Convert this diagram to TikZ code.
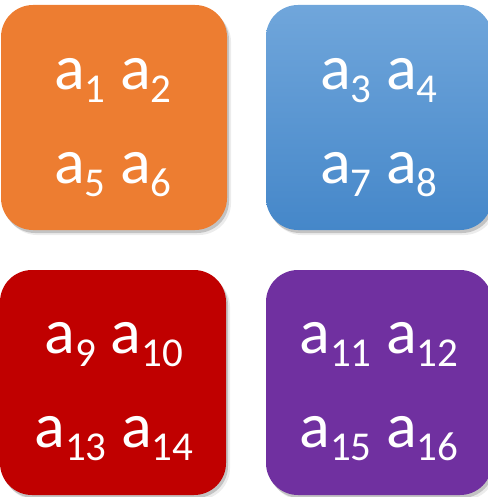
\documentclass[tikz,border=0pt]{standalone}
\usepackage{fontspec}
\setmainfont{Carlito}
\usetikzlibrary{shadows}

\definecolor{tileorange}{HTML}{ED7D31}
\definecolor{tilebluetop}{HTML}{70A6DB}
\definecolor{tilebluebot}{HTML}{4587C9}
\definecolor{tilered}{HTML}{C00000}
\definecolor{tilepurple}{HTML}{7030A0}

% lowered index digits
\newcommand{\ix}[1]{\raisebox{-13pt}{\fontsize{41}{41}\selectfont #1}}

\begin{document}
\begin{tikzpicture}[x=1pt, y=-1pt,
  tile/.style={rounded corners=32pt, minimum width=226pt, minimum height=225pt, inner sep=0pt,
    drop shadow={shadow xshift=4pt, shadow yshift=-5pt, opacity=0.15, fill=black!50},
    drop shadow={shadow xshift=2pt, shadow yshift=-3pt, opacity=0.3, fill=black!60}},
  entry/.style={anchor=base, text=white, inner sep=0pt, font=\fontsize{64}{64}\selectfont}
]
  \useasboundingbox (0,0) rectangle (487,497);

  % the four tiles
  \node[tile, fill=tileorange] (orange) at (114,117.5) {};
  \node[tile, top color=tilebluetop, bottom color=tilebluebot] (blue) at (379,117.5) {};
  \node[tile, fill=tilered] (red) at (113,382.5) {};
  \node[tile, fill=tilepurple] (purple) at (379,382.5) {};

  % entries
  \node[entry] (a12) at (113,90) {a\ix{1} a\ix{2}};
  \node[entry] (a56) at (113,183) {a\ix{5} a\ix{6}};
  \node[entry] (a34) at (379,90) {a\ix{3} a\ix{4}};
  \node[entry] (a78) at (379,183) {a\ix{7} a\ix{8}};
  \node[entry] (a910) at (114,353) {a\ix{9} a\ix{10}};
  \node[entry] (a1314) at (114,447) {a\ix{13} a\ix{14}};
  \node[entry] (a1112) at (379,353) {a\ix{11} a\ix{12}};
  \node[entry] (a1516) at (379,447) {a\ix{15} a\ix{16}};
\end{tikzpicture}
\end{document}
